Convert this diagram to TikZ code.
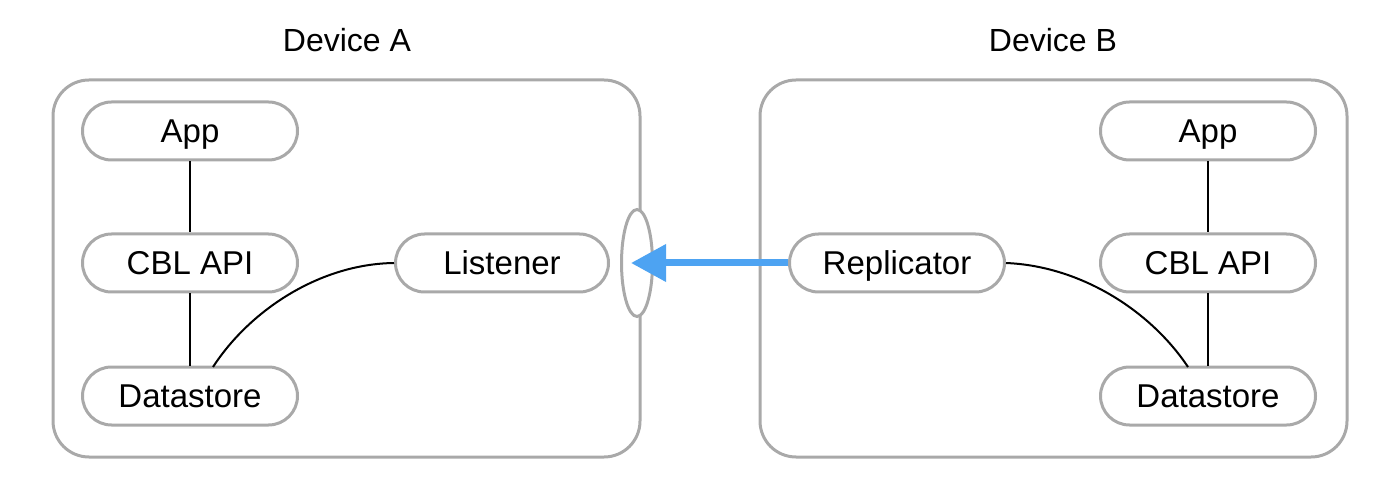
\documentclass[tikz,border=0pt]{standalone}
\usepackage{fontspec}
\setmainfont{Liberation Sans}
\usetikzlibrary{arrows.meta,shapes.geometric}
\definecolor{boxgray}{HTML}{A9A9A9}
\definecolor{arrowblue}{HTML}{4DA3F2}
\begin{document}
\begin{tikzpicture}[x=1pt,y=-1pt,
  comp/.style={draw=boxgray,line width=3pt,rounded corners=29pt,minimum width=215pt,minimum height=58pt,inner sep=0pt,text height=23.6pt,text depth=0pt,font=\fontsize{33}{36}\selectfont,fill=white},
  device/.style={draw=boxgray,line width=3pt,rounded corners=36pt},
  title/.style={font=\fontsize{32}{36}\selectfont,inner sep=0pt,text height=22.9pt,text depth=0pt},
  link/.style={line width=2pt,black}]
\useasboundingbox (0,0) rectangle (1400,486);
% device boxes
\draw[device] (53,80) rectangle (640,457);
\draw[device] (760,80) rectangle (1347,457);
\node[title] (ta) at (347,40) {Device A};
\node[title] (tb) at (1053,40) {Device B};
% port ellipse
\node[ellipse,draw=boxgray,line width=3pt,fill=white,minimum width=31pt,minimum height=107pt,inner sep=0pt] (port) at (637,263) {};
% Device A
\node[comp] (appA) at (190,131) {App};
\node[comp] (apiA) at (190,263) {CBL API};
\node[comp] (dsA) at (190,396) {Datastore};
\node[comp,minimum width=213pt] (lis) at (502,263) {Listener};
% Device B
\node[comp] (rep) at (897,263) {Replicator};
\node[comp] (appB) at (1208,131) {App};
\node[comp] (apiB) at (1208,263) {CBL API};
\node[comp] (dsB) at (1208,396) {Datastore};
% links
\draw[link] (appA) -- (apiA);
\draw[link] (apiA) -- (dsA);
\draw[link] (appB) -- (apiB);
\draw[link] (apiB) -- (dsB);
\coordinate (dsAtop) at (213,367);
\coordinate (dsBtop) at (1188,367);
\draw[link] (dsAtop) .. controls (250,310) and (320,264) .. (lis.west);
\draw[link] (rep.east) .. controls (1080,266) and (1150,310) .. (dsBtop);
% arrow
\coordinate (tip) at (631,263);
\draw[arrowblue,line width=7pt,-{Triangle[length=35pt,width=36pt]}] (rep.west) -- (tip);
\end{tikzpicture}
\end{document}
